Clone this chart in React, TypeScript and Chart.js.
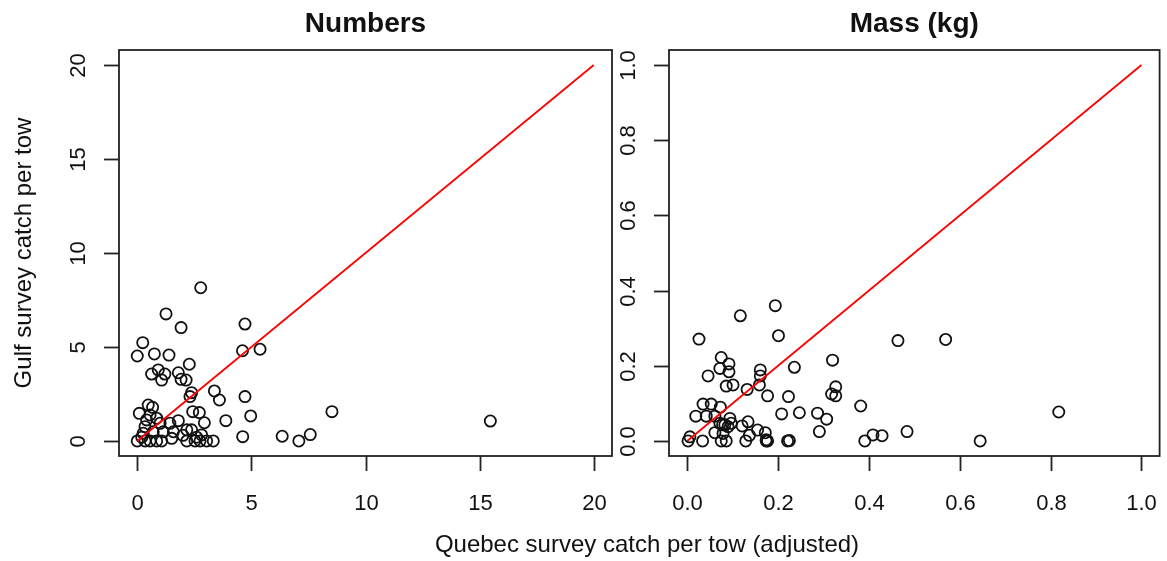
import React, { useEffect, useRef } from "react";
import { Chart, registerables } from "chart.js";

Chart.register(...registerables);

const FONT = '"Liberation Sans", Arial, Helvetica, sans-serif';

// Left panel: Numbers
const numbersX = [
  1.26, 1.92, 4.72, 0.24, 0.0, 0.75, 1.39, 4.61, 5.38, 2.28,
  0.63, 0.92, 1.21, 1.07, 1.8, 1.92, 2.14, 2.38, 2.31, 3.38,
  3.6, 4.72, 0.48, 0.67, 0.09, 0.56, 2.43, 2.72, 2.94, 3.88,
  4.97, 4.62, 6.35, 7.08, 7.58, 8.53, 15.47, 2.78, 0.0, 0.34,
  0.56, 0.85, 1.07, 1.51, 2.17, 2.53, 2.75, 3.04, 3.33, 2.17,
  2.38, 2.82, 1.8, 1.43, 1.58, 1.0, 0.85, 0.34, 0.41, 0.7,
  1.14, 0.26, 0.2, 2.0, 2.6,
];
const numbersY = [
  6.76, 6.03, 6.22, 5.23, 4.52, 4.63, 4.57, 4.8, 4.88, 4.08,
  3.56, 3.78, 3.56, 3.24, 3.63, 3.28, 3.24, 2.57, 2.36, 2.66,
  2.18, 2.36, 1.91, 1.79, 1.47, 1.38, 1.56, 1.51, 0.97, 1.08,
  1.33, 0.23, 0.25, 0.0, 0.34, 1.56, 1.06, 8.15, 0.0, 0.0,
  0.0, 0.0, 0.0, 0.14, 0.0, 0.0, 0.0, 0.0, 0.0, 0.59,
  0.59, 0.32, 1.08, 0.94, 0.49, 0.94, 1.21, 0.76, 1.12, 0.49,
  0.49, 0.41, 0.2, 0.3, 0.2,
];

// Right panel: Mass (kg)
const massX = [
  0.194, 0.117, 0.026, 0.201, 0.075, 0.092, 0.072, 0.092, 0.046, 0.161,
  0.161, 0.236, 0.32, 0.086, 0.101, 0.132, 0.159, 0.177, 0.223, 0.327,
  0.318, 0.327, 0.382, 0.019, 0.035, 0.053, 0.042, 0.061, 0.073, 0.094,
  0.097, 0.072, 0.083, 0.121, 0.134, 0.155, 0.172, 0.137, 0.208, 0.247,
  0.287, 0.307, 0.291, 0.002, 0.006, 0.034, 0.075, 0.086, 0.061, 0.079,
  0.129, 0.174, 0.174, 0.177, 0.221, 0.225, 0.078, 0.09, 0.464, 0.569,
  0.391, 0.409, 0.429, 0.484, 0.645, 0.818,
];
const massY = [
  0.36, 0.333, 0.271, 0.28, 0.222, 0.205, 0.193, 0.184, 0.173, 0.189,
  0.173, 0.196, 0.215, 0.146, 0.149, 0.137, 0.149, 0.12, 0.118, 0.144,
  0.125, 0.12, 0.093, 0.066, 0.098, 0.098, 0.066, 0.066, 0.09, 0.06,
  0.047, 0.047, 0.043, 0.04, 0.051, 0.029, 0.022, 0.015, 0.072, 0.075,
  0.074, 0.058, 0.025, 0.0, 0.011, 0.0, 0.0, 0.0, 0.022, 0.02,
  0.0, 0.003, 0.0, 0.0, 0.0, 0.001, 0.043, 0.038, 0.267, 0.27,
  0.0, 0.016, 0.014, 0.025, 0.0, 0.077,
];

const numbersTicks = [0, 5, 10, 15, 20];
const numbersTickLabels = ["0", "5", "10", "15", "20"];
const massTicks = [0, 0.2, 0.4, 0.6, 0.8, 1.0];
const massTickLabels = ["0.0", "0.2", "0.4", "0.6", "0.8", "1.0"];

const numbersLine = [0, 20];
const massLine = [0, 1];

const panelTitles = ["Numbers", "Mass (kg)"];
const yAxisTitle = "Gulf survey catch per tow";
const xAxisTitle = "Quebec survey catch per tow (adjusted)";

const panelAxes = {
  id: "panelAxes",
  afterDraw(chart: any, _args: any, opts: any) {
    const { ctx, chartArea: a } = chart;
    const xs = chart.scales.x;
    const ys = chart.scales.y;
    ctx.save();
    ctx.strokeStyle = "#222";
    ctx.lineWidth = 1.8;
    ctx.strokeRect(a.left, a.top, a.right - a.left, a.bottom - a.top);
    ctx.fillStyle = "#111";
    ctx.font = `22px ${FONT}`;
    // x ticks
    opts.ticks.forEach((v: number, i: number) => {
      const px = Math.round(xs.getPixelForValue(v)) + 0.5;
      ctx.beginPath();
      ctx.moveTo(px, a.bottom);
      ctx.lineTo(px, a.bottom + 15);
      ctx.stroke();
      ctx.textAlign = "center";
      ctx.textBaseline = "alphabetic";
      ctx.fillText(opts.tickLabels[i], px, a.bottom + 54);
    });
    // y ticks
    opts.ticks.forEach((v: number, i: number) => {
      const py = Math.round(ys.getPixelForValue(v)) + 0.5;
      ctx.beginPath();
      ctx.moveTo(a.left, py);
      ctx.lineTo(a.left - 15, py);
      ctx.stroke();
      ctx.save();
      ctx.translate(a.left - 34, py);
      ctx.rotate(-Math.PI / 2);
      ctx.textAlign = "center";
      ctx.textBaseline = "alphabetic";
      ctx.fillText(opts.tickLabels[i], 0, 0);
      ctx.restore();
    });
    // panel title
    ctx.font = `bold 28px ${FONT}`;
    ctx.textAlign = "center";
    ctx.textBaseline = "alphabetic";
    ctx.fillText(opts.title, (a.left + a.right) / 2, 32);
    ctx.font = `24px ${FONT}`;
    if (opts.yTitle) {
      ctx.save();
      ctx.translate(31, (a.top + a.bottom) / 2);
      ctx.rotate(-Math.PI / 2);
      ctx.textAlign = "center";
      ctx.fillText(opts.yTitle, 0, 0);
      ctx.restore();
    }
    if (opts.xTitle) {
      ctx.textAlign = "center";
      ctx.fillText(opts.xTitle, 647, 552);
    }
    ctx.restore();
  },
};

function makeConfig(
  xv: number[],
  yv: number[],
  line: number[],
  ticks: number[],
  tickLabels: string[],
  title: string,
  padding: any,
  withTitles: boolean
): any {
  const lo = ticks[0];
  const hi = ticks[ticks.length - 1];
  const ext = (hi - lo) * 0.04;
  return {
    type: "scatter",
    data: {
      datasets: [
        {
          data: line.map((v) => ({ x: v, y: v })),
          showLine: true,
          borderColor: "#ff0000",
          borderWidth: 1.8,
          pointRadius: 0,
          fill: false,
        },
        {
          data: xv.map((v, i) => ({ x: v, y: yv[i] })),
          pointStyle: "circle",
          pointRadius: 5.6,
          pointBorderWidth: 1.8,
          pointBorderColor: "#111",
          pointBackgroundColor: "rgba(0,0,0,0)",
          borderColor: "#111",
          backgroundColor: "rgba(0,0,0,0)",
          showLine: false,
        },
      ],
    },
    options: {
      responsive: false,
      animation: false,
      devicePixelRatio: 1,
      layout: { padding },
      scales: {
        x: { type: "linear", display: false, min: lo - ext, max: hi + ext },
        y: { type: "linear", display: false, min: lo - ext, max: hi + ext },
      },
      plugins: {
        legend: { display: false },
        tooltip: { enabled: false },
        panelAxes: {
          ticks,
          tickLabels,
          title,
          yTitle: withTitles ? yAxisTitle : null,
          xTitle: withTitles ? xAxisTitle : null,
        },
      },
    },
    plugins: [panelAxes],
  };
}

export default function App() {
  const leftRef = useRef<HTMLCanvasElement>(null);
  const rightRef = useRef<HTMLCanvasElement>(null);

  useEffect(() => {
    const c1 = new Chart(
      leftRef.current as HTMLCanvasElement,
      makeConfig(
        numbersX,
        numbersY,
        numbersLine,
        numbersTicks,
        numbersTickLabels,
        panelTitles[0],
        { left: 119, right: 555, top: 50, bottom: 105 },
        true
      )
    );
    const c2 = new Chart(
      rightRef.current as HTMLCanvasElement,
      makeConfig(
        massX,
        massY,
        massLine,
        massTicks,
        massTickLabels,
        panelTitles[1],
        { left: 669, right: 5, top: 50, bottom: 105 },
        false
      )
    );
    return () => {
      c1.destroy();
      c2.destroy();
    };
  }, []);

  const canvasStyle: React.CSSProperties = {
    position: "absolute",
    left: 0,
    top: 0,
    width: 1167,
    height: 561,
  };

  return (
    <div
      style={{
        position: "absolute",
        left: 0,
        top: 0,
        width: 1167,
        height: 561,
        background: "#fff",
      }}
    >
      <canvas ref={leftRef} width={1167} height={561} style={canvasStyle} />
      <canvas ref={rightRef} width={1167} height={561} style={canvasStyle} />
    </div>
  );
}
